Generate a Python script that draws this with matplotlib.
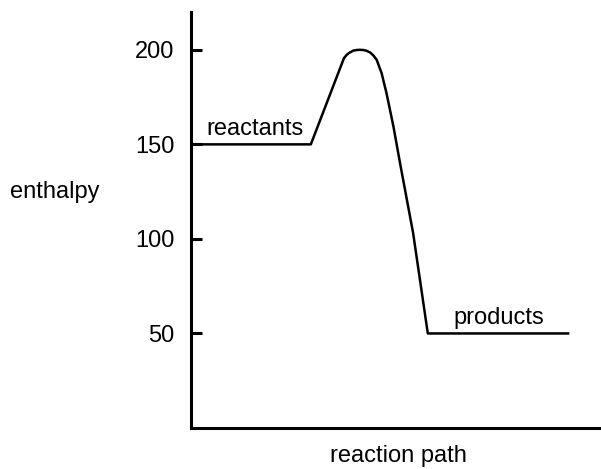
import matplotlib
matplotlib.use("Agg")
import matplotlib.pyplot as plt

plt.rcParams['font.family'] = ['Liberation Sans', 'DejaVu Sans']

# reaction path (arbitrary units 0-100) and enthalpy
path = [2.9, 29.3, 37.4, 38.0, 38.6, 39.7, 40.5, 41.3, 42.1, 42.8, 43.8,
        44.6, 45.4, 46.6, 47.8, 49.5, 51.1, 54.3, 57.9, 92.2]
enthalpy = [150, 150, 195.6, 197.2, 198.3, 199.6, 199.9, 200, 199.9, 199.6,
            198.6, 197.0, 194.7, 187.7, 177.1, 159.4, 140.2, 103.2, 50, 50]

y_ticks = [50, 100, 150, 200]

fig = plt.figure(figsize=(6.01, 4.69), dpi=100)
ax = fig.add_axes([191 / 601, 41 / 469, 409 / 601, 416 / 469])

ax.plot(path, enthalpy, color='black', lw=1.8, solid_joinstyle='round')

ax.set_xlim(0, 100)
ax.set_ylim(0, 220)
ax.set_yticks(y_ticks)
ax.set_xticks([])
ax.tick_params(axis='y', direction='in', length=8, width=2.2, pad=12,
               labelsize=17)

for s in ['top', 'right']:
    ax.spines[s].set_visible(False)
for s in ['left', 'bottom']:
    ax.spines[s].set_linewidth(2.2)

ax.text(3.8, 152.5, 'reactants', fontsize=17, ha='left', va='bottom')
ax.text(64.2, 52.5, 'products', fontsize=17, ha='left', va='bottom')

fig.text(55 / 601, 1 - 192 / 469, 'enthalpy', fontsize=17,
         ha='center', va='center')
fig.text(398 / 601, 1 - 456 / 469, 'reaction path', fontsize=17,
         ha='center', va='center')

fig.savefig('out.png', dpi=100)
